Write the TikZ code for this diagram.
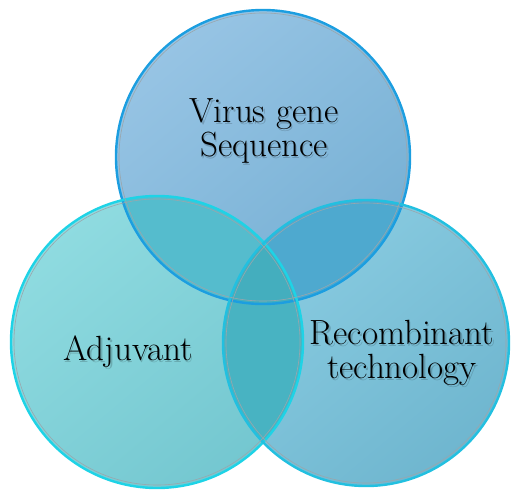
\documentclass[tikz,border=0pt]{standalone}
\usepackage{fontspec}
\setmainfont{Latin Modern Roman}
\definecolor{topA}{HTML}{97C4E4}
\definecolor{topB}{HTML}{76B0D4}
\definecolor{leftA}{HTML}{8FDBE0}
\definecolor{leftB}{HTML}{74C7D0}
\definecolor{rightA}{HTML}{8BCDE2}
\definecolor{rightB}{HTML}{6FB6CF}
\definecolor{tlFill}{HTML}{55BCCD}
\definecolor{trFill}{HTML}{4EA9CF}
\definecolor{lrFill}{HTML}{48B3C2}
\definecolor{midFill}{HTML}{44AEBE}
\definecolor{topRim}{HTML}{1C9EE0}
\definecolor{leftRim}{HTML}{1ED3E6}
\definecolor{rightRim}{HTML}{22C0E0}
\definecolor{innerRim}{HTML}{9AA6AC}
\tikzset{
  rim/.style={line width=2.4pt},
  inner rim/.style={draw=innerRim, line width=0.6pt},
  label text/.style={font=\fontsize{35}{34}\selectfont, align=center, text=black},
  label shadow/.style={font=\fontsize{35}{34}\selectfont, align=center, text=black, opacity=0.18}
}
\begin{document}
\begin{tikzpicture}[x=1pt,y=-1pt]
\useasboundingbox (0,0) rectangle (511,490);
\coordinate (T) at (263,157);
\coordinate (L) at (157,342);
\coordinate (R) at (366,343);
\def\rT{147pt}
\def\rL{146pt}
\def\rR{143pt}

% circle bodies, lighter towards the upper left
\shade[top color=topA, bottom color=topB, shading angle=40] (T) circle (\rT);
\shade[top color=leftA, bottom color=leftB, shading angle=40] (L) circle (\rL);
\shade[top color=rightA, bottom color=rightB, shading angle=40] (R) circle (\rR);

% pairwise overlaps
\begin{scope}
  \clip (T) circle (\rT);
  \fill[tlFill] (L) circle (\rL);
\end{scope}
\begin{scope}
  \clip (T) circle (\rT);
  \fill[trFill] (R) circle (\rR);
\end{scope}
\begin{scope}
  \clip (L) circle (\rL);
  \fill[lrFill] (R) circle (\rR);
\end{scope}
% common centre
\begin{scope}
  \clip (T) circle (\rT);
  \clip (L) circle (\rL);
  \fill[midFill] (R) circle (\rR);
\end{scope}

% rims
\draw[rim, draw=topRim] (T) circle (\rT);
\draw[rim, draw=leftRim] (L) circle (\rL);
\draw[rim, draw=rightRim] (R) circle (\rR);
\draw[inner rim] (T) circle (144pt);
\draw[inner rim] (L) circle (143pt);
\draw[inner rim] (R) circle (140pt);

% labels with a faint drop shadow
\node[label shadow] at (265.5,132.5) {Virus gene\\Sequence};
\node[label shadow] at (129.5,353.5) {Adjuvant};
\node[label shadow] at (403.5,354.5) {Recombinant\\technology};
\node[label text] (vgs) at (264,131) {Virus gene\\Sequence};
\node[label text] (adj) at (128,352) {Adjuvant};
\node[label text] (rec) at (402,353) {Recombinant\\technology};
\end{tikzpicture}
\end{document}
